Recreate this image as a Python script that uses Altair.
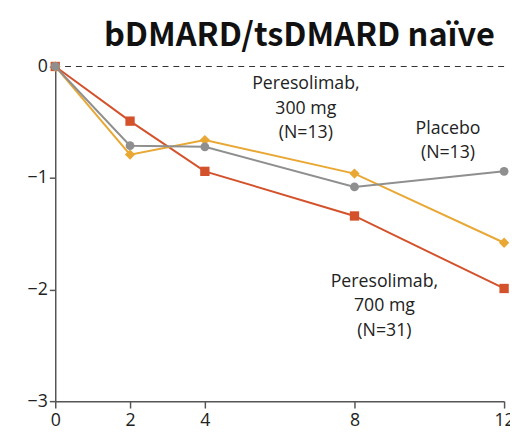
import altair as alt
import pandas as pd

weeks = [0, 2, 4, 8, 12]
dose700 = [0, -0.49, -0.94, -1.34, -1.99]
dose300 = [0, -0.79, -0.66, -0.96, -1.58]
placebo = [0, -0.71, -0.72, -1.08, -0.94]

series_names = ["Peresolimab, 700 mg", "Peresolimab, 300 mg", "Placebo"]
series_values = [dose700, dose300, placebo]
colors = ["#D4522B", "#E9A834", "#8F8F8F"]
shapes = ["square", "diamond", "circle"]
sizes = [90, 110, 80]

label_texts = [["Peresolimab,", "700 mg", "(N=31)"],
               ["Peresolimab,", "300 mg", "(N=13)"],
               ["Placebo", "(N=13)"]]
label_x = [8.8, 6.7, 10.5]
label_y = [-1.85, -0.08, -0.48]

rows = []
for name, vals in zip(series_names, series_values):
    for w, v in zip(weeks, vals):
        rows.append({"week": w, "value": v, "series": name})
df = pd.DataFrame(rows)

xs = alt.Scale(domain=[0, 12], nice=False, zero=False)
ys = alt.Scale(domain=[-3, 0], nice=False)

font = "Open Sans"

base = alt.Chart(df)

zero_line = alt.Chart(pd.DataFrame({"y": [0]})).mark_rule(
    color="#333333", strokeDash=[6, 5], strokeWidth=1.2
).encode(y=alt.Y("y:Q", scale=ys))

layers = [zero_line]
for name, col, shp, sz in zip(series_names, colors, shapes, sizes):
    sub = base.transform_filter(alt.datum.series == name)
    line = sub.mark_line(color=col, strokeWidth=2).encode(
        x=alt.X("week:Q", scale=xs,
                axis=alt.Axis(values=weeks, title=None, grid=False, domainColor="#555555",
                              domainWidth=1.5, tickColor="#555555", tickWidth=1.5, tickSize=7,
                              labelFont=font, labelFontSize=18, labelColor="#222222",
                              labelPadding=4, labelFlush=False, format="d")),
        y=alt.Y("value:Q", scale=ys,
                axis=alt.Axis(values=[0, -1, -2, -3], title=None, grid=False,
                              domainColor="#555555", domainWidth=1.5, tickColor="#555555",
                              tickWidth=1.5, tickSize=6, labelFont=font, labelFontSize=18,
                              labelColor="#222222", labelPadding=2,
                              labelExpr="datum.value < 0 ? '\u2212' + abs(datum.value) : '0'")),
    )
    pts = sub.mark_point(filled=True, opacity=1, color=col, shape=shp, size=sz).encode(
        x=alt.X("week:Q", scale=xs), y=alt.Y("value:Q", scale=ys)
    )
    layers += [line, pts]

lab_df = pd.DataFrame({"x": label_x, "y": label_y, "text": label_texts})
labels = alt.Chart(lab_df).mark_text(
    font=font, fontSize=18, color="#222222", lineHeight=25, align="center", baseline="top"
).encode(x=alt.X("x:Q", scale=xs), y=alt.Y("y:Q", scale=ys), text="text")
layers.append(labels)

chart = alt.layer(*layers).properties(
    width=456, height=340,
    autosize=alt.AutoSizeParams(type="none"),
    padding={"left": 48, "top": 56, "right": 6, "bottom": 32},
    title=alt.TitleParams("bDMARD/tsDMARD naïve", font="Noto Sans CJK JP", fontSize=33,
                          fontWeight="bold", color="#111111", anchor="middle", dx=20, offset=5),
).configure_view(stroke=None)

chart.save("out.html", embed_options={"renderer": "svg", "actions": False})
